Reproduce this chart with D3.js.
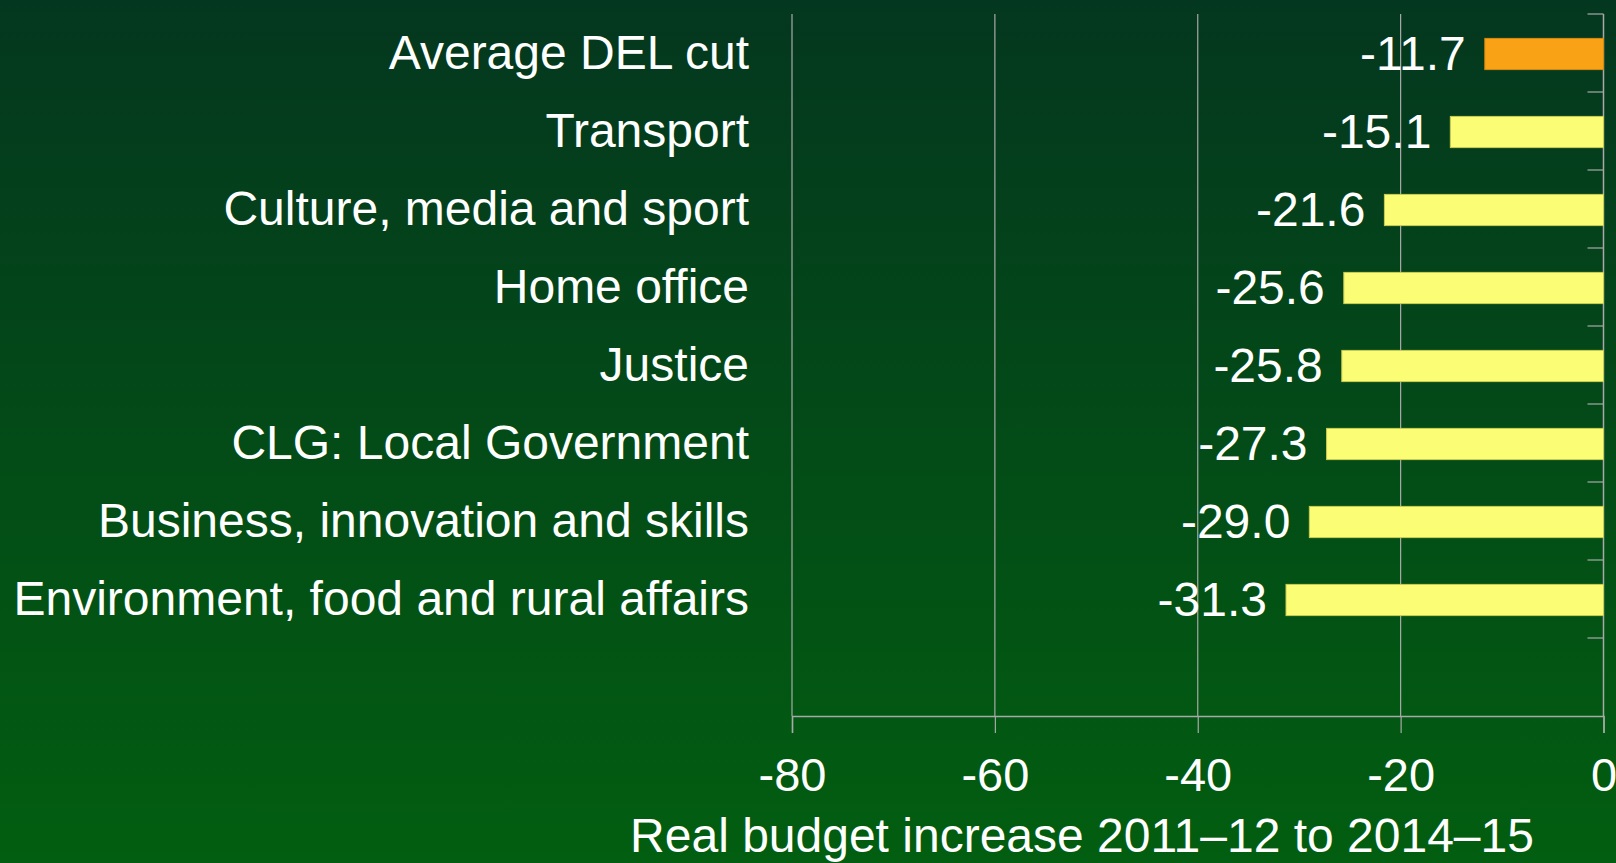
<!DOCTYPE html>
<html>
<head>
<meta charset="utf-8">
<script src="https://cdn.jsdelivr.net/npm/d3@7"></script>
<style>
  html, body { margin: 0; padding: 0; background: #02480f; }
  svg { display: block; }
  text { font-family: "Liberation Sans", Arial, sans-serif; fill: #ffffff; }
</style>
</head>
<body>
<svg id="chart" width="1616" height="863"></svg>
<script>
// Departments, top to bottom
const categories = [
  "Average DEL cut",
  "Transport",
  "Culture, media and sport",
  "Home office",
  "Justice",
  "CLG: Local Government",
  "Business, innovation and skills",
  "Environment, food and rural affairs"
];
// Real budget change, per cent
const values = [-11.7, -15.1, -21.6, -25.6, -25.8, -27.3, -29.0, -31.3];
// Which bar is the overall average
const highlight = [true, false, false, false, false, false, false, false];
const xTicks = [-80, -60, -40, -20, 0];
const xTitle = "Real budget increase 2011\u201312 to 2014\u201315";

const W = 1616, H = 863;
const svg = d3.select("#chart");

// Background gradient, dark green at top to brighter green at bottom
const defs = svg.append("defs");
const grad = defs.append("linearGradient")
  .attr("id", "bg").attr("x1", 0).attr("y1", 0).attr("x2", 0).attr("y2", 1);
grad.append("stop").attr("offset", "0%").attr("stop-color", "#04371f");
grad.append("stop").attr("offset", "100%").attr("stop-color", "#025e10");
svg.append("rect").attr("width", W).attr("height", H).attr("fill", "url(#bg)");

const plot = { left: 792, right: 1603.5, top: 14, bottom: 716 };

const x = d3.scaleLinear().domain([-80, 0]).range([plot.left, plot.right]);

// One extra empty slot below the last department
const slots = d3.range(categories.length + 1);
const y = d3.scaleBand().domain(slots).range([plot.top, plot.bottom]).paddingInner(0).paddingOuter(0);
const barH = y.bandwidth() * 0.4;

const axisColor = "#a9a9a9";
// Plain hyphen for negative numbers
const fmtTick = d => String(d);
const fmtVal = d => d3.format(".1f")(d).replace("\u2212", "-");

// Vertical gridlines
svg.append("g")
  .selectAll("line")
  .data(xTicks.filter(t => t !== 0))
  .join("line")
  .attr("x1", d => x(d)).attr("x2", d => x(d))
  .attr("y1", plot.top).attr("y2", plot.bottom)
  .attr("stroke", axisColor).attr("stroke-width", 1.2);

// Bottom axis
const xAxis = d3.axisBottom(x).tickValues(xTicks).tickSize(17).tickPadding(25)
  .tickFormat(fmtTick);
const gx = svg.append("g").attr("transform", `translate(0,${plot.bottom})`).call(xAxis);
gx.select(".domain").attr("stroke", axisColor).attr("stroke-width", 1.5);
gx.selectAll(".tick line").attr("stroke", axisColor).attr("stroke-width", 1.2);
gx.selectAll(".tick text")
  .attr("font-size", 47).attr("fill", "#fff")
  .style("font-family", '"Liberation Sans", Arial, sans-serif');

// Right-hand category axis at zero, ticks at band boundaries pointing inward
const bounds = slots.map(i => y(i));
svg.append("line")
  .attr("x1", x(0)).attr("x2", x(0))
  .attr("y1", plot.top).attr("y2", plot.bottom)
  .attr("stroke", axisColor).attr("stroke-width", 1.5);
svg.append("g").selectAll("line")
  .data(bounds)
  .join("line")
  .attr("x1", x(0) - 16).attr("x2", x(0))
  .attr("y1", d => d).attr("y2", d => d)
  .attr("stroke", axisColor).attr("stroke-width", 1.2);

// Bars
const data = categories.map((c, i) => ({ c, v: values[i], hi: highlight[i], i }));
svg.append("g").selectAll("rect")
  .data(data)
  .join("rect")
  .attr("x", d => x(d.v))
  .attr("width", d => x(0) - x(d.v))
  .attr("y", d => y(d.i) + y.bandwidth() / 2 - barH / 2 + 1)
  .attr("height", barH)
  .attr("fill", d => d.hi ? "#f9a216" : "#fbfd74")
  .attr("stroke", d => d.hi ? "#d58a10" : "#c9cc55")
  .attr("stroke-width", 1);

// Value labels to the left of each bar
svg.append("g").selectAll("text")
  .data(data)
  .join("text")
  .attr("x", d => x(d.v) - 19)
  .attr("y", d => y(d.i) + y.bandwidth() / 2 + 0.5)
  .attr("dy", "0.35em")
  .attr("text-anchor", "end")
  .attr("font-size", 48)
  .text(d => fmtVal(d.v));

// Category labels
svg.append("g").selectAll("text")
  .data(data)
  .join("text")
  .attr("x", 749)
  .attr("y", d => y(d.i) + y.bandwidth() / 2 - 1)
  .attr("dy", "0.35em")
  .attr("text-anchor", "end")
  .attr("font-size", 48)
  .text(d => d.c);

// Axis title
svg.append("text")
  .attr("x", 1082)
  .attr("y", 852)
  .attr("text-anchor", "middle")
  .attr("font-size", 48)
  .text(xTitle);
</script>
</body>
</html>
